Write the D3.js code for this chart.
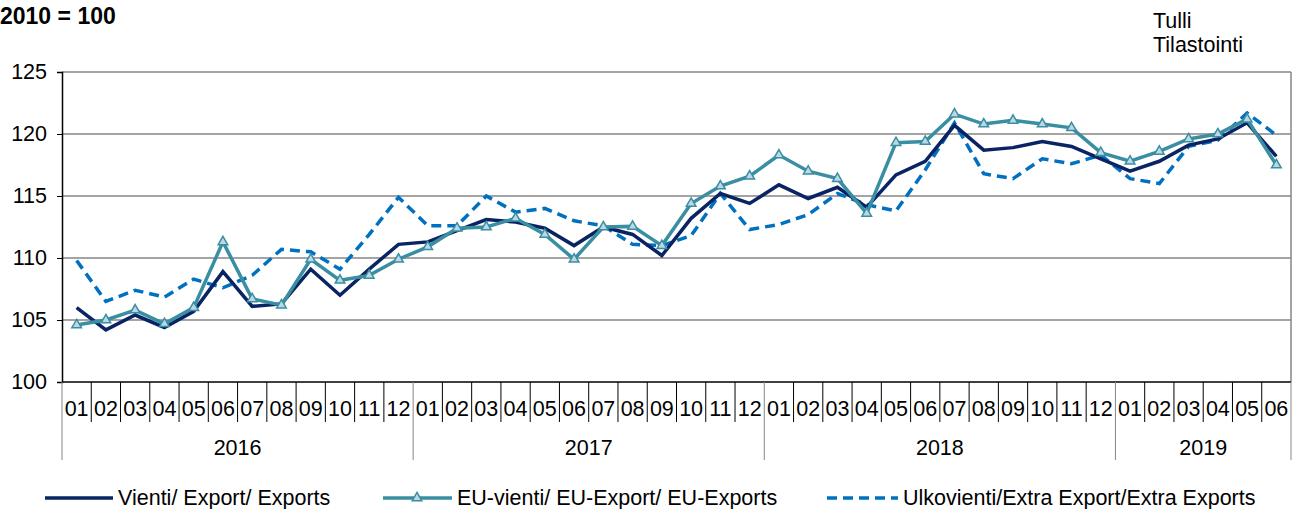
<!DOCTYPE html>
<html><head><meta charset="utf-8">
<script src="https://cdn.jsdelivr.net/npm/d3@7"></script>
<style>body{margin:0;background:#fff;} text{font-family:"Liberation Sans",Arial,sans-serif;}</style>
</head><body><svg id="c" width="1304" height="509"></svg>
<script>
const years = ["2016","2017","2018","2019"];
const monthsPerYear = [12,12,12,6];
const monthLabels = ["01","02","03","04","05","06","07","08","09","10","11","12"];
const yTicks = [100,105,110,115,120,125];
const exportVals = [106.0,104.2,105.4,104.4,105.7,108.9,106.1,106.3,109.1,107.0,109.1,111.1,
  111.3,112.2,113.1,112.9,112.4,111.0,112.5,111.9,110.2,113.2,115.2,114.4,
  115.9,114.8,115.7,114.1,116.7,117.8,120.7,118.7,118.9,119.4,119.0,118.0,
  117.0,117.8,119.1,119.6,120.9,118.2];
const euVals = [104.6,105.0,105.8,104.7,106.0,111.3,106.7,106.2,109.9,108.2,108.6,109.9,
  110.9,112.4,112.5,113.2,111.9,109.9,112.5,112.55,111.0,114.4,115.8,116.6,
  118.3,117.0,116.4,113.6,119.3,119.4,121.6,120.8,121.1,120.8,120.5,118.5,
  117.8,118.6,119.6,120.0,121.2,117.5];
const extraVals = [109.8,106.5,107.4,106.85,108.3,107.6,108.6,110.7,110.5,109.1,111.9,114.9,
  112.6,112.6,115.0,113.7,114.0,113.0,112.6,111.1,111.0,111.8,115.2,112.3,
  112.7,113.5,115.2,114.3,113.8,117.1,120.9,116.8,116.4,118.0,117.6,118.3,
  116.4,116.0,119.0,119.5,121.7,119.9];
const seriesNames = ["Vienti/ Export/ Exports","EU-vienti/ EU-Export/ EU-Exports","Ulkovienti/Extra Export/Extra Exports"];

const FS = 21.5;
const svg = d3.select("#c");
const L = 62, R = 1291, T = 72, B = 382;
const cats = [];
years.forEach((y,yi)=>{ for(let m=0;m<monthsPerYear[yi];m++) cats.push(y+"-"+monthLabels[m]); });
const x = d3.scaleBand().domain(cats).range([L,R]).padding(0);
const y = d3.scaleLinear().domain([100,125]).range([B,T]);
const cx = d => x(d) + x.bandwidth()/2;

// gridlines
svg.append("g").selectAll("line").data(yTicks.filter(t=>t>100)).join("line")
  .attr("x1",L).attr("x2",R).attr("y1",d=>y(d)).attr("y2",d=>y(d))
  .attr("stroke","#868686").attr("stroke-width",1.5);
// right border
svg.append("line").attr("x1",R).attr("x2",R).attr("y1",T).attr("y2",B).attr("stroke","#868686").attr("stroke-width",1.5);

// y axis
const ya = svg.append("g").attr("transform",`translate(${L},0)`)
  .call(d3.axisLeft(y).tickValues(yTicks).tickSize(5).tickPadding(10));
ya.select(".domain").attr("stroke","#000").attr("stroke-width",1.5);
ya.selectAll(".tick line").attr("stroke","#000");
ya.selectAll("text").attr("font-size",FS).attr("fill","#000").attr("font-family","Liberation Sans, Arial");

// bottom axis line
svg.append("line").attr("x1",L).attr("x2",R).attr("y1",B).attr("y2",B).attr("stroke","#000").attr("stroke-width",1.5);
// month separators
const bounds = cats.map(c=>x(c)).concat([R]);
let yearStarts = [0]; monthsPerYear.reduce((a,b)=>{yearStarts.push(a+b); return a+b;},0);
svg.append("g").selectAll("line").data(bounds.map((b,i)=>({b,i}))).join("line")
  .attr("x1",d=>d.b).attr("x2",d=>d.b).attr("y1",B)
  .attr("y2",d=> yearStarts.includes(d.i) ? 460 : 422)
  .attr("stroke",d=> yearStarts.includes(d.i) ? "#868686" : "#000").attr("stroke-width",1);
// month labels
svg.append("g").selectAll("text").data(cats).join("text")
  .attr("x",d=>cx(d)).attr("y",416).attr("text-anchor","middle").attr("font-size",FS)
  .text(d=>d.split("-")[1]);
// year labels
years.forEach((yr,yi)=>{
  const s = cats[yearStarts[yi]], e = cats[yearStarts[yi+1]-1];
  const mid = (x(s) + x(e)+x.bandwidth())/2;
  svg.append("text").attr("x",mid).attr("y",455).attr("text-anchor","middle").attr("font-size",FS).text(yr);
});

const line = d3.line().x((d,i)=>cx(cats[i])).y(d=>y(d));
svg.append("path").datum(extraVals).attr("d",line).attr("fill","none")
  .attr("stroke","#0070c0").attr("stroke-width",3.5).attr("stroke-dasharray","10,6");
svg.append("path").datum(exportVals).attr("d",line).attr("fill","none")
  .attr("stroke","#0a2463").attr("stroke-width",3.5);
svg.append("path").datum(euVals).attr("d",line).attr("fill","none")
  .attr("stroke","#3a8ea2").attr("stroke-width",3.5);
const tri = d3.symbol().type(d3.symbolTriangle).size(40);
svg.append("g").selectAll("path").data(euVals).join("path")
  .attr("d",tri).attr("transform",(d,i)=>`translate(${cx(cats[i])},${y(d)})`)
  .attr("fill","#bcd7e6").attr("stroke","#3a8ea2").attr("stroke-width",1.5);

// titles
svg.append("text").attr("x",0).attr("y",24).attr("font-size",23).attr("font-weight","bold").text("2010 = 100");
svg.append("text").attr("x",1153).attr("y",28).attr("font-size",FS).text("Tulli");
svg.append("text").attr("x",1153).attr("y",52).attr("font-size",FS).text("Tilastointi");

// legend
const lg = svg.append("g");
const ly = 498;
lg.append("line").attr("x1",45).attr("x2",113).attr("y1",ly).attr("y2",ly).attr("stroke","#0a2463").attr("stroke-width",3.5);
lg.append("text").attr("x",118).attr("y",ly+7).attr("font-size",FS).text(seriesNames[0]);
lg.append("line").attr("x1",383).attr("x2",452).attr("y1",ly).attr("y2",ly).attr("stroke","#3a8ea2").attr("stroke-width",3.5);
lg.append("path").attr("d",tri).attr("transform",`translate(417,${ly})`).attr("fill","#bcd7e6").attr("stroke","#3a8ea2").attr("stroke-width",1.5);
lg.append("text").attr("x",457).attr("y",ly+7).attr("font-size",FS).text(seriesNames[1]);
lg.append("line").attr("x1",827).attr("x2",898).attr("y1",ly).attr("y2",ly).attr("stroke","#0070c0").attr("stroke-width",3.5).attr("stroke-dasharray","10,6");
lg.append("text").attr("x",903).attr("y",ly+7).attr("font-size",FS).text(seriesNames[2]);
</script></body></html>
